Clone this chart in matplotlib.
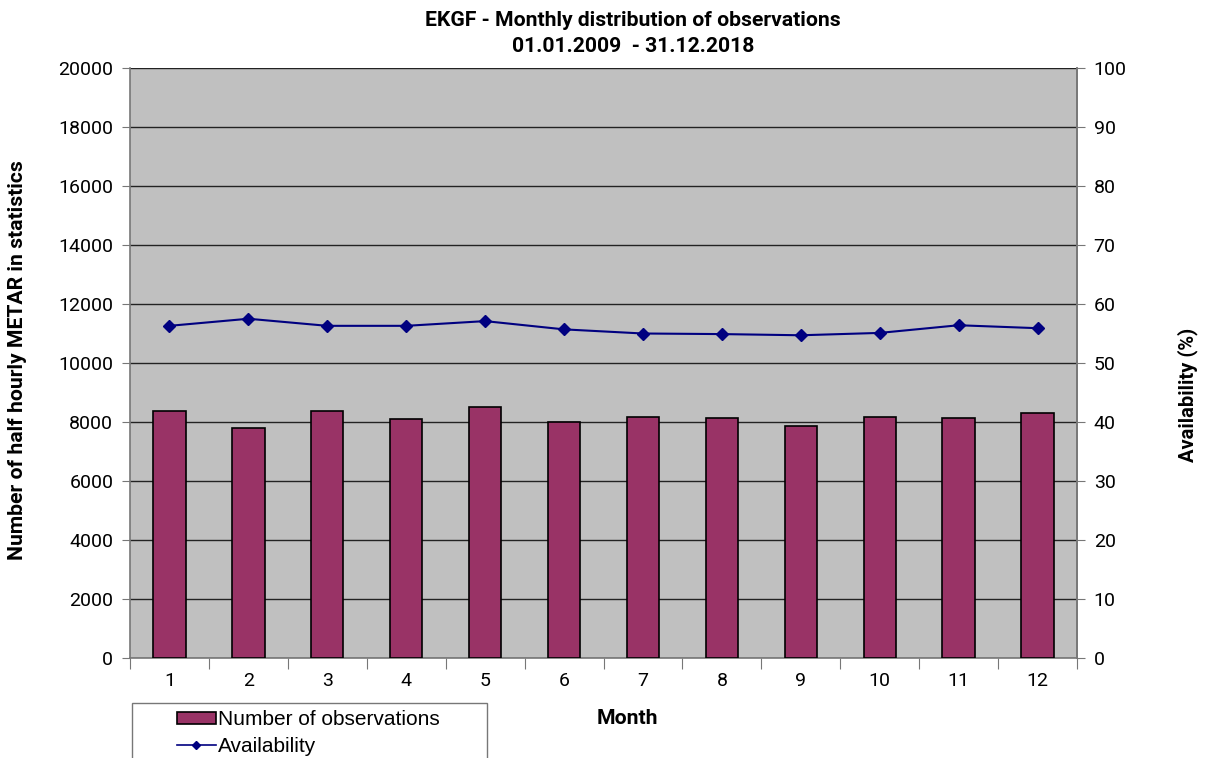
import matplotlib
matplotlib.use("Agg")
import matplotlib.pyplot as plt
import matplotlib.patches as mpatches
from matplotlib.lines import Line2D
import numpy as np

months = [1, 2, 3, 4, 5, 6, 7, 8, 9, 10, 11, 12]
observations = [8380, 7790, 8380, 8100, 8500, 8010, 8180, 8150, 7860, 8180, 8120, 8320]
availability = [56.3, 57.5, 56.3, 56.3, 57.1, 55.7, 55.0, 54.9, 54.7, 55.1, 56.4, 55.9]
left_ticks = [0, 2000, 4000, 6000, 8000, 10000, 12000, 14000, 16000, 18000, 20000]
right_ticks = [0, 10, 20, 30, 40, 50, 60, 70, 80, 90, 100]

W, H = 1207, 758
fig = plt.figure(figsize=(W / 100, H / 100), dpi=100)
fig.patch.set_facecolor("white")
ax = fig.add_axes([130 / W, 1 - 658 / H, (1077 - 130) / W, (658 - 68) / H])
ax.set_facecolor("#C0C0C0")

x = np.arange(len(months))
ax.bar(x, observations, width=0.41, color="#993366", edgecolor="black", linewidth=1.2, zorder=3)
ax.set_xlim(-0.5, len(months) - 0.5)
ax.set_ylim(0, 20000)
ax.set_yticks(left_ticks)
ax.set_yticklabels([str(v) for v in left_ticks], fontfamily="Roboto", fontsize=14)
ax.grid(axis="y", color="#222222", linewidth=1.0, zorder=1)
ax.set_axisbelow(True)

ax.set_xticks(np.arange(-0.5, len(months), 1.0))
ax.set_xticklabels([])
ax.set_xticks(x, minor=True)
ax.set_xticklabels([str(m) for m in months], minor=True, fontfamily="Roboto", fontsize=14)
ax.tick_params(axis="x", which="major", length=8, color="#777777")
ax.tick_params(axis="x", which="minor", length=0, pad=10)
ax.tick_params(axis="y", length=6, color="#777777", pad=6)

for s in ["top"]:
    ax.spines[s].set_visible(False)
for s in ["left", "right", "bottom"]:
    ax.spines[s].set_color("#777777")
    ax.spines[s].set_linewidth(1.2)

ax2 = ax.twinx()
ax2.plot(x, availability, color="#000080", marker="D", markersize=6, linewidth=1.5, zorder=4)
ax2.set_ylim(0, 100)
ax2.set_yticks(right_ticks)
ax2.set_yticklabels([str(v) for v in right_ticks], fontfamily="Roboto", fontsize=14)
ax2.tick_params(axis="y", length=6, color="#777777", pad=6)
for s in ["top", "left", "bottom"]:
    ax2.spines[s].set_visible(False)
ax2.spines["right"].set_color("#777777")
ax2.spines["right"].set_linewidth(1.2)

fig.text(633 / W, 1 - 21 / H, "EKGF - Monthly distribution of observations",
         ha="center", va="center", fontfamily="Roboto", fontweight="bold", fontsize=15.2)
fig.text(633 / W, 1 - 46 / H, "01.01.2009  - 31.12.2018",
         ha="center", va="center", fontfamily="Roboto", fontweight="bold", fontsize=15.2)
fig.text(18 / W, 1 - 360 / H, "Number of half hourly METAR in statistics", rotation=90,
         ha="center", va="center", fontfamily="Roboto", fontweight="bold", fontsize=15.2)
fig.text(1188 / W, 1 - 395 / H, "Availability (%)", rotation=90,
         ha="center", va="center", fontfamily="Roboto", fontweight="bold", fontsize=14.5)
fig.text(627 / W, 1 - 719 / H, "Month",
         ha="center", va="center", fontfamily="Roboto", fontweight="bold", fontsize=15.2)

rect = mpatches.Rectangle((132 / W, 1 - 780 / H), (487 - 132) / W, (780 - 703) / H,
                          transform=fig.transFigure, facecolor="white", edgecolor="#777777",
                          linewidth=1.0)
fig.patches.append(rect)

handles = [mpatches.Patch(facecolor="#993366", edgecolor="black", linewidth=1.2),
           Line2D([0], [0], color="#000080", marker="D", markersize=4, linewidth=1.2)]
leg = fig.legend(handles, ["Number of observations", "Availability"],
                 loc="upper left", bbox_to_anchor=(177 / W, 1 - 710 / H),
                 frameon=False, prop={"family": "Liberation Sans", "size": 15},
                 handlelength=1.85, handleheight=0.5, handletextpad=0.1, labelspacing=0.38,
                 borderpad=0.0, borderaxespad=0.0)

fig.savefig("out.png", dpi=100, facecolor="white")
